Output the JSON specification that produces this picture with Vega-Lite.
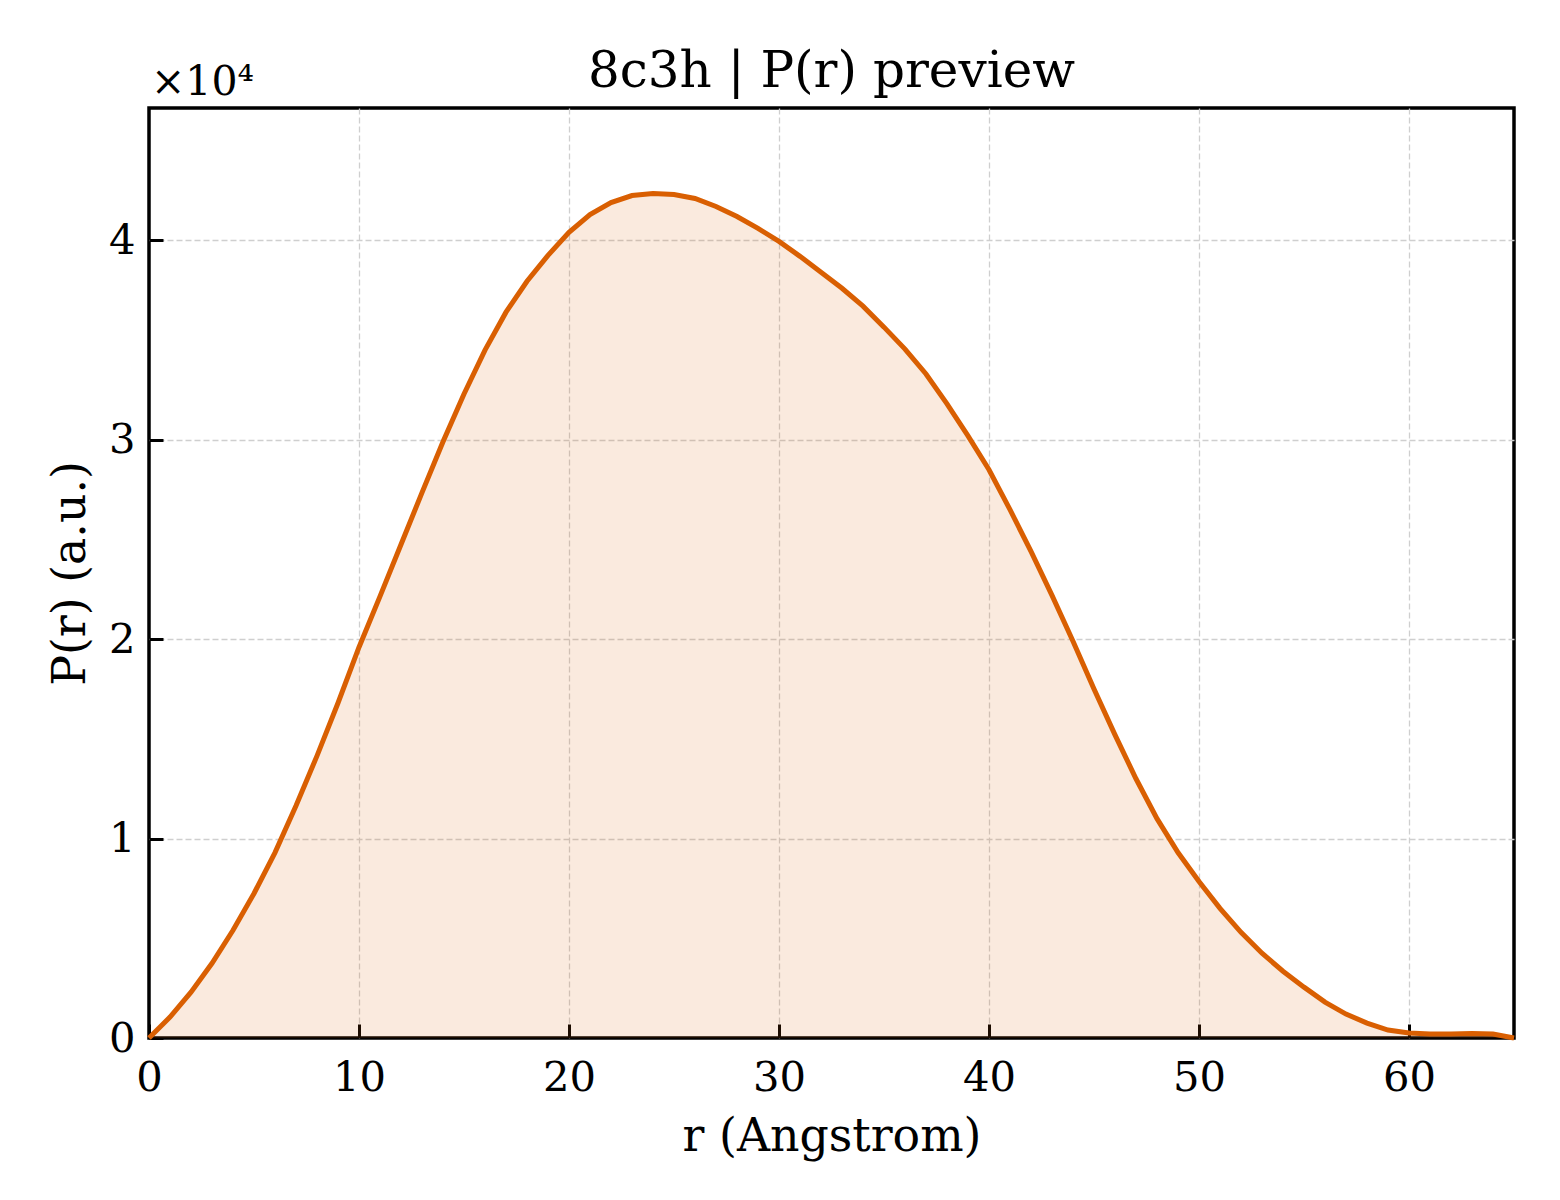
{
  "$schema": "https://vega.github.io/schema/vega-lite/v6.json",
  "autosize": "none",
  "width": 1365,
  "height": 930,
  "padding": {"left": 149, "top": 108, "right": 46, "bottom": 162},
  "background": "white",
  "title": {
    "text": "8c3h | P(r) preview",
    "font": "DejaVu Serif",
    "fontSize": 50,
    "fontWeight": "normal",
    "color": "black",
    "baseline": "alphabetic",
    "offset": -33,
    "dy": 42,
    "anchor": "middle"
  },
  "data": {
    "values": [
      {"r": 0, "P": 0}, {"r": 1, "P": 1050}, {"r": 2, "P": 2300}, {"r": 3, "P": 3750},
      {"r": 4, "P": 5400}, {"r": 5, "P": 7250}, {"r": 6, "P": 9300}, {"r": 7, "P": 11650},
      {"r": 8, "P": 14150}, {"r": 9, "P": 16800}, {"r": 10, "P": 19600}, {"r": 11, "P": 22150},
      {"r": 12, "P": 24750}, {"r": 13, "P": 27350}, {"r": 14, "P": 29900}, {"r": 15, "P": 32300},
      {"r": 16, "P": 34500}, {"r": 17, "P": 36400}, {"r": 18, "P": 37950}, {"r": 19, "P": 39250},
      {"r": 20, "P": 40400}, {"r": 21, "P": 41300}, {"r": 22, "P": 41900}, {"r": 23, "P": 42250},
      {"r": 24, "P": 42350}, {"r": 25, "P": 42300}, {"r": 26, "P": 42100}, {"r": 27, "P": 41700},
      {"r": 28, "P": 41200}, {"r": 29, "P": 40600}, {"r": 30, "P": 39950}, {"r": 31, "P": 39200},
      {"r": 32, "P": 38400}, {"r": 33, "P": 37600}, {"r": 34, "P": 36700}, {"r": 35, "P": 35650},
      {"r": 36, "P": 34550}, {"r": 37, "P": 33300}, {"r": 38, "P": 31800}, {"r": 39, "P": 30200},
      {"r": 40, "P": 28500}, {"r": 41, "P": 26500}, {"r": 42, "P": 24400}, {"r": 43, "P": 22200},
      {"r": 44, "P": 19900}, {"r": 45, "P": 17500}, {"r": 46, "P": 15200}, {"r": 47, "P": 13000},
      {"r": 48, "P": 11000}, {"r": 49, "P": 9300}, {"r": 50, "P": 7850}, {"r": 51, "P": 6500},
      {"r": 52, "P": 5300}, {"r": 53, "P": 4250}, {"r": 54, "P": 3350}, {"r": 55, "P": 2550},
      {"r": 56, "P": 1800}, {"r": 57, "P": 1200}, {"r": 58, "P": 750}, {"r": 59, "P": 400},
      {"r": 60, "P": 250}, {"r": 61, "P": 200}, {"r": 62, "P": 200}, {"r": 63, "P": 230},
      {"r": 64, "P": 200}, {"r": 65, "P": 0}
    ]
  },
  "layer": [
    {
      "mark": {"type": "area", "color": "#D95F02", "opacity": 0.13},
      "encoding": {
        "x": {
          "field": "r",
          "type": "quantitative",
          "title": "r (Angstrom)",
          "scale": {"domain": [0, 65], "nice": false, "zero": false},
          "axis": {
            "values": [0, 10, 20, 30, 40, 50, 60],
            "labelPadding": 33,
            "titlePadding": 16,
            "gridColor": {"condition": {"test": "datum.value == 0", "value": "transparent"}, "value": "#cfcfcf"}
          }
        },
        "y": {
          "field": "P",
          "type": "quantitative",
          "title": "P(r) (a.u.)",
          "scale": {"domain": [0, 46640], "nice": false},
          "axis": {
            "values": [0, 10000, 20000, 30000, 40000],
            "labelExpr": "format(datum.value / 10000, 'd')",
            "labelPadding": 28,
            "titlePadding": 14,
            "gridColor": {"condition": {"test": "datum.value == 0", "value": "transparent"}, "value": "#cfcfcf"}
          }
        }
      }
    },
    {
      "mark": {"type": "line", "color": "#D95F02", "strokeWidth": 5},
      "encoding": {
        "x": {"field": "r", "type": "quantitative"},
        "y": {"field": "P", "type": "quantitative"}
      }
    },
    {
      "data": {"values": [{"label": "×10⁴", "r": 0, "P": 46640}]},
      "mark": {
        "type": "text",
        "font": "DejaVu Serif",
        "fontSize": 41,
        "align": "left",
        "baseline": "alphabetic",
        "dx": 2,
        "dy": -13,
        "fill": "black"
      },
      "encoding": {
        "x": {"field": "r", "type": "quantitative"},
        "y": {"field": "P", "type": "quantitative"},
        "text": {"field": "label", "type": "nominal"}
      }
    }
  ],
  "config": {
    "view": {"stroke": "black", "strokeWidth": 3.5},
    "axis": {
      "domain": false,
      "grid": true,
      "gridDash": [6, 3],
      "gridWidth": 1.3,
      "ticks": true,
      "tickSize": -14,
      "tickWidth": 3,
      "tickColor": "black",
      "labelFont": "DejaVu Serif",
      "labelFontSize": 41.7,
      "labelColor": "black",
      "labelFlush": false,
      "labelOverlap": false,
      "titleFont": "DejaVu Serif",
      "titleFontSize": 45.8,
      "titleFontWeight": "normal",
      "titleColor": "black"
    }
  }
}
